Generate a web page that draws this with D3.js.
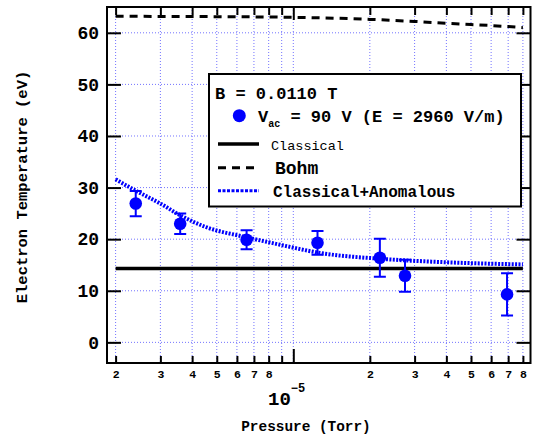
<!DOCTYPE html>
<html>
<head>
<meta charset="utf-8">
<script src="https://cdn.jsdelivr.net/npm/d3@7"></script>
<style>
  body { margin: 0; background: #fff; }
  text { font-family: "Liberation Mono", "DejaVu Sans Mono", monospace; font-weight: bold; }
</style>
</head>
<body>
<svg id="chart" width="534" height="441"></svg>
<script>
// measured data (pressure in Torr, temperature in eV)
var pressure = [2.40e-6, 3.59e-6, 6.55e-6, 1.245e-5, 2.19e-5, 2.75e-5, 6.93e-5],
    temperature = [26.9, 23.0, 19.9, 19.3, 16.4, 12.9, 9.3],
    tempErr = [2.45, 2.0, 1.85, 2.3, 3.7, 3.1, 4.1];

// model curves
var classicalP = [2e-6, 8e-5],
    classicalT = [14.3, 14.3];
var bohmP = [2e-6, 4e-6, 1e-5, 2e-5, 3e-5, 4e-5, 5e-5, 6e-5, 7e-5, 8e-5],
    bohmT = [63.2, 63.15, 63.0, 62.6, 62.2, 61.85, 61.6, 61.4, 61.2, 61.0];
var anomP = [2e-6, 2.4e-6, 3e-6, 3.6e-6, 4.5e-6, 6.5e-6, 8.1e-6, 9.7e-6, 1.25e-5, 2.2e-5, 2.75e-5, 4.1e-5, 8e-5],
    anomT = [31.6, 29.4, 26.9, 24.6, 22.4, 20.4, 19.35, 18.5, 17.4, 16.2, 15.9, 15.5, 15.1];

// axis ticks
var xMinor = [2e-6, 3e-6, 4e-6, 5e-6, 6e-6, 7e-6, 8e-6, 9e-6, 2e-5, 3e-5, 4e-5, 5e-5, 6e-5, 7e-5, 8e-5],
    xMajor = [1e-5],
    yTicks = [0, 10, 20, 30, 40, 50, 60];

var svg = d3.select("#chart"),
    pLeft = 107, pRight = 530.5, pTop = 7, pBottom = 363;

var x = d3.scaleLog().domain([1.85e-6, 8.57e-5]).range([pLeft, pRight]),
    y = d3.scaleLinear().domain([-4, 65]).range([pBottom, pTop]);

var blue = "#0000ff", gridBlue = "#7373ff";

// grid
var grid = svg.append("g");
grid.selectAll(".vg")
  .data(xMinor.concat(xMajor))
  .enter().append("line")
    .attr("x1", function(d) { return x(d); })
    .attr("x2", function(d) { return x(d); })
    .attr("y1", pTop).attr("y2", pBottom)
    .attr("stroke", gridBlue).attr("stroke-width", 1)
    .attr("stroke-dasharray", "1,2");
grid.selectAll(".hg")
  .data(yTicks)
  .enter().append("line")
    .attr("x1", pLeft).attr("x2", pRight)
    .attr("y1", function(d) { return y(d); })
    .attr("y2", function(d) { return y(d); })
    .attr("stroke", gridBlue).attr("stroke-width", 1)
    .attr("stroke-dasharray", "1,2");

// model lines
var line = d3.line()
  .x(function(d) { return x(d[0]); })
  .y(function(d) { return y(d[1]); });

svg.append("path")
  .attr("d", line(d3.zip(classicalP, classicalT)))
  .attr("fill", "none").attr("stroke", "#000").attr("stroke-width", 3.5);

svg.append("path")
  .attr("d", line.curve(d3.curveMonotoneX)(d3.zip(bohmP, bohmT)))
  .attr("fill", "none").attr("stroke", "#000").attr("stroke-width", 3)
  .attr("stroke-dasharray", "8,6");

svg.append("path")
  .attr("d", line.curve(d3.curveMonotoneX)(d3.zip(anomP, anomT)))
  .attr("fill", "none").attr("stroke", blue).attr("stroke-width", 4)
  .attr("stroke-dasharray", "2,1.4");

// data points with error bars
var pts = d3.range(pressure.length).map(function(i) {
  return {p: pressure[i], t: temperature[i], e: tempErr[i]};
});
var pg = svg.append("g").attr("stroke", blue).attr("stroke-width", 2);
pg.selectAll(".eb")
  .data(pts)
  .enter().append("path")
    .attr("fill", "none")
    .attr("d", function(d) {
      var cx = x(d.p), y0 = y(d.t - d.e), y1 = y(d.t + d.e);
      return "M" + cx + "," + y0 + "V" + y1 +
             "M" + (cx - 6) + "," + y1 + "H" + (cx + 6) +
             "M" + (cx - 6) + "," + y0 + "H" + (cx + 6);
    });
svg.selectAll(".pt")
  .data(pts)
  .enter().append("circle")
    .attr("cx", function(d) { return x(d.p); })
    .attr("cy", function(d) { return y(d.t); })
    .attr("r", 6.3)
    .attr("fill", blue);

// axes, ticks pointing inward
function noDomain(g) { g.select(".domain").remove(); g.selectAll(".tick line").attr("stroke-width", 2); }

svg.append("g")
  .attr("transform", "translate(0," + pBottom + ")")
  .call(d3.axisBottom(x).tickValues(xMinor).tickSize(-7).tickPadding(7)
    .tickFormat(function(d) { var m = Math.round(d / Math.pow(10, Math.floor(Math.log10(d) + 1e-9))); return m === 9 ? "" : m; }))
  .call(noDomain)
  .selectAll("text").style("font-size", "11.5px").attr("fill", "#000");

svg.append("g")
  .attr("transform", "translate(0," + pBottom + ")")
  .call(d3.axisBottom(x).tickValues(xMajor).tickSize(-14).tickFormat(""))
  .call(noDomain);

svg.append("g")
  .attr("transform", "translate(0," + pTop + ")")
  .call(d3.axisTop(x).tickValues(xMinor).tickSize(-8).tickFormat(""))
  .call(noDomain);
svg.append("g")
  .attr("transform", "translate(0," + pTop + ")")
  .call(d3.axisTop(x).tickValues(xMajor).tickSize(-13).tickFormat(""))
  .call(noDomain);

svg.append("g")
  .attr("transform", "translate(" + pLeft + ",0)")
  .call(d3.axisLeft(y).tickValues(yTicks).tickSize(-14).tickPadding(8))
  .call(noDomain)
  .selectAll("text").style("font-size", "18px").attr("fill", "#000");

svg.append("g")
  .attr("transform", "translate(" + pRight + ",0)")
  .call(d3.axisRight(y).tickValues(yTicks).tickSize(-14).tickFormat(""))
  .call(noDomain);

svg.append("rect")
  .attr("x", pLeft).attr("y", pTop)
  .attr("width", pRight - pLeft).attr("height", pBottom - pTop)
  .attr("fill", "none").attr("stroke", "#000").attr("stroke-width", 2);

// decade label and axis titles
var dec = svg.append("text").attr("x", 268).attr("y", 405).style("font-size", "19px");
dec.append("tspan").text("10");
dec.append("tspan").attr("dy", -13).style("font-size", "12px").text("\u22125");

svg.append("text")
  .attr("x", 306).attr("y", 431)
  .attr("text-anchor", "middle")
  .style("font-size", "14.4px")
  .text("Pressure (Torr)");

svg.append("text")
  .attr("transform", "translate(27,187) rotate(-90)")
  .attr("text-anchor", "middle")
  .style("font-size", "15.5px")
  .text("Electron Temperature (eV)");

// legend
var lg = svg.append("g");
lg.append("rect")
  .attr("x", 209).attr("y", 74).attr("width", 312).attr("height", 132.5)
  .attr("fill", "#fff").attr("stroke", "#000").attr("stroke-width", 2);
lg.append("text").attr("x", 215).attr("y", 98.5).style("font-size", "17px").text("B = 0.0110 T");
lg.append("circle").attr("cx", 239.3).attr("cy", 115.7).attr("r", 6.5).attr("fill", blue);
var vt = lg.append("text").attr("x", 258).attr("y", 121.5).style("font-size", "17px");
vt.append("tspan").text("V");
vt.append("tspan").attr("dy", 5).style("font-size", "10px").text("ac");
vt.append("tspan").attr("dy", -5).text(" = 90 V (E = 2960 V/m)");

lg.append("line").attr("x1", 218).attr("x2", 259).attr("y1", 144).attr("y2", 144)
  .attr("stroke", "#000").attr("stroke-width", 3.5);
lg.append("text").attr("x", 271).attr("y", 150).style("font-size", "13.5px").style("font-weight", "normal").text("Classical");

lg.append("line").attr("x1", 218).attr("x2", 259).attr("y1", 167.7).attr("y2", 167.7)
  .attr("stroke", "#000").attr("stroke-width", 3).attr("stroke-dasharray", "8,6");
lg.append("text").attr("x", 275).attr("y", 173.5).style("font-size", "18px").text("Bohm");

lg.append("line").attr("x1", 218).attr("x2", 259).attr("y1", 190.7).attr("y2", 190.7)
  .attr("stroke", blue).attr("stroke-width", 3).attr("stroke-dasharray", "3,1.5");
lg.append("text").attr("x", 273).attr("y", 197).style("font-size", "16px").text("Classical+Anomalous");
</script>
</body>
</html>
